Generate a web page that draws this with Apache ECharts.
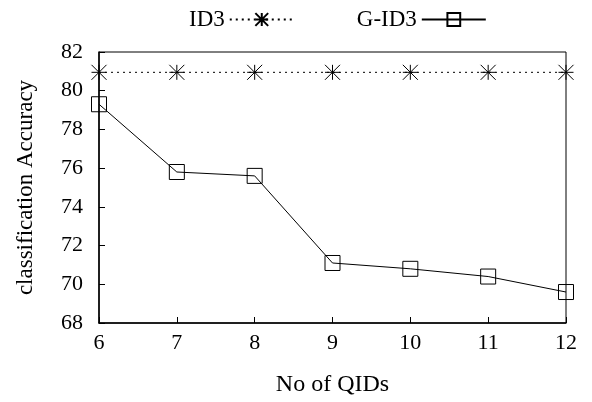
<!DOCTYPE html>
<html>
<head>
<meta charset="utf-8">
<script src="https://cdn.jsdelivr.net/npm/echarts@6/dist/echarts.min.js"></script>
<style>html,body{margin:0;padding:0;background:#fff;}#c{width:592px;height:402px;}</style>
</head>
<body>
<div id="c"></div>
<script>
var qids = [6, 7, 8, 9, 10, 11, 12];
var id3Values = [80.95, 80.95, 80.95, 80.95, 80.95, 80.95, 80.95];
var gid3Values = [79.3, 75.8, 75.6, 71.1, 70.8, 70.4, 69.6];
var seriesNames = ['ID3', 'G-ID3'];
var xTitle = 'No of QIDs';
var yTitle = 'classification Accuracy';

function pairs(xs, ys) { return xs.map(function (x, i) { return [x, ys[i]]; }); }

var FONT = '"Liberation Serif", "DejaVu Serif", serif';
var star = 'path://M0,-1L0,1M-1,0L1,0M-1,-1L1,1M-1,1L1,-1';

var chart = echarts.init(document.getElementById('c'), null, {renderer: 'canvas'});
chart.setOption({
  animation: false,
  backgroundColor: '#fff',
  textStyle: {fontFamily: FONT, color: '#000'},
  legend: {
    left: 184, top: 3,
    align: 'right',
    itemWidth: 64, itemHeight: 16, itemGap: 62,
    textStyle: {fontFamily: FONT, fontSize: 23, color: '#000'},
    data: seriesNames
  },
  grid: {left: 99, right: 26, top: 52, bottom: 78, show: true, borderColor: '#000', borderWidth: 1, backgroundColor: 'transparent'},
  xAxis: {
    type: 'value', min: 6, max: 12, interval: 1,
    name: xTitle, nameLocation: 'middle', nameGap: 50,
    nameTextStyle: {fontFamily: FONT, fontSize: 24, color: '#000'},
    axisLine: {show: true, lineStyle: {color: '#000', width: 1.5}},
    axisTick: {show: true, inside: true, length: 6, lineStyle: {color: '#000'}},
    axisLabel: {fontFamily: FONT, fontSize: 22, color: '#000', margin: 9},
    splitLine: {show: false}
  },
  yAxis: {
    type: 'value', min: 68, max: 82, interval: 2,
    name: yTitle, nameLocation: 'middle', nameGap: 62,
    nameTextStyle: {fontFamily: FONT, fontSize: 23, color: '#000'},
    axisLine: {show: true, lineStyle: {color: '#000', width: 1.5}},
    axisTick: {show: true, inside: true, length: 6, lineStyle: {color: '#000'}},
    axisLabel: {fontFamily: FONT, fontSize: 22, color: '#000', margin: 16},
    splitLine: {show: false}
  },
  series: [
    {
      name: seriesNames[0], type: 'line', clip: false,
      data: pairs(qids, id3Values),
      symbol: star, symbolSize: 15, showAllSymbol: true,
      lineStyle: {color: '#000', width: 1, type: [2, 4]},
      itemStyle: {color: 'none', borderColor: '#000', borderWidth: 1}
    },
    {
      name: seriesNames[1], type: 'line', clip: false,
      data: pairs(qids, gid3Values),
      symbol: 'rect', symbolSize: 15, showAllSymbol: true,
      lineStyle: {color: '#000', width: 1, type: 'solid'},
      itemStyle: {color: 'none', borderColor: '#000', borderWidth: 1}
    }
  ]
});
</script>
</body>
</html>
